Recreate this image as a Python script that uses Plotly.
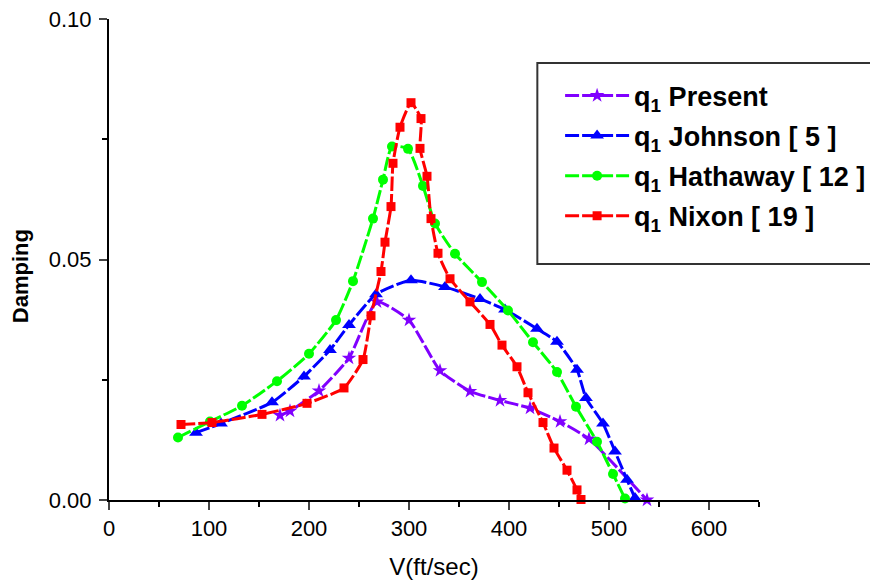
import plotly.graph_objects as go

# ---- data ----
present_x = [171, 181, 210, 240, 268, 300, 331, 361, 391, 421, 451, 480, 538]
present_y = [0.0176, 0.0185, 0.0227, 0.0295, 0.0412, 0.0374, 0.0269, 0.0226, 0.0207, 0.0191, 0.0163, 0.0127, 0.0]

johnson_x = [87, 112, 163, 195, 221, 240, 267, 302, 336, 371, 396, 428, 448, 468, 477, 494, 506, 518, 526]
johnson_y = [0.0140, 0.0159, 0.0203, 0.0257, 0.0312, 0.0364, 0.0428, 0.0457, 0.0443, 0.0418, 0.0396, 0.0356,
             0.0329, 0.0271, 0.0212, 0.0159, 0.0101, 0.0042, 0.0004]

hathaway_x = [69, 101, 133, 168, 200, 227, 244, 264, 274, 283, 299, 314, 326, 346, 373, 399, 424, 448, 467, 488, 504, 516]
hathaway_y = [0.0130, 0.0163, 0.0196, 0.0247, 0.0304, 0.0374, 0.0455, 0.0585, 0.0666, 0.0735, 0.0730, 0.0653,
              0.0575, 0.0512, 0.0453, 0.0394, 0.0328, 0.0266, 0.0194, 0.0121, 0.0054, 0.0003]

nixon_x = [72, 103, 153, 198, 235, 254, 262, 272, 276, 282, 284, 291, 302, 312, 311, 318, 322, 329, 341, 361,
           381, 393, 408, 419, 434, 445, 458, 468, 472]
nixon_y = [0.0157, 0.0161, 0.0178, 0.0201, 0.0233, 0.0292, 0.0383, 0.0475, 0.0536, 0.0610, 0.0700, 0.0775,
           0.0826, 0.0793, 0.0731, 0.0673, 0.0585, 0.0513, 0.0460, 0.0412, 0.0365, 0.0322, 0.0277, 0.0223,
           0.0161, 0.0108, 0.0062, 0.0021, 0.0001]

names = ["q<sub>1</sub> Present", "q<sub>1</sub> Johnson [ 5 ]",
         "q<sub>1</sub> Hathaway [ 12 ]", "q<sub>1</sub> Nixon [ 19 ]"]

x_ticks = [0, 100, 200, 300, 400, 500, 600]
y_ticks = [0.0, 0.05, 0.10]

FONT = "Arial, Liberation Sans, sans-serif"

series = [
    (present_x, present_y, names[0], "#8000FF", "star", 11),
    (johnson_x, johnson_y, names[1], "#0000FF", "triangle-up", 12),
    (hathaway_x, hathaway_y, names[2], "#00FF00", "circle", 10),
    (nixon_x, nixon_y, names[3], "#FF0000", "square", 9),
]

fig = go.Figure()
for i, (xs, ys, nm, col, sym, sz) in enumerate(series):
    fig.add_trace(go.Scatter(
        x=xs, y=ys, name=nm, mode="lines+markers",
        line=dict(color=col, width=3, dash="14px,3px", shape="spline", smoothing=0.5),
        marker=dict(symbol=sym, size=sz, color=col, line=dict(width=0)),
        legendgroup=str(i), cliponaxis=False,
    ))

fig.update_layout(
    width=870, height=585,
    margin=dict(l=109, r=111, t=19, b=85, autoexpand=False),
    paper_bgcolor="white", plot_bgcolor="white",
    font=dict(family=FONT, color="black"),
    showlegend=True,
    legend=dict(
        x=0.694, xanchor="left",
        y=0.891, yanchor="top",
        bgcolor="rgba(0,0,0,0)", borderwidth=0,
        font=dict(family=FONT, size=27, color="black", weight="bold"),
        tracegroupgap=2, traceorder="grouped", itemwidth=64,
    ),
    xaxis=dict(
        range=[0, 650], tickvals=x_ticks, ticks="outside", ticklen=8, tickwidth=2,
        showline=True, linecolor="black", linewidth=2, showgrid=False, zeroline=False,
        tickfont=dict(size=22, family=FONT),
        minor=dict(dtick=50, tick0=0, ticks="outside", ticklen=5, tickwidth=2, tickcolor="black", showgrid=False),
        title=dict(text="V(ft/sec)", font=dict(size=24, family=FONT), standoff=18),
    ),
    yaxis=dict(
        range=[0, 0.10], tickvals=y_ticks, tickformat=".2f", ticks="outside", ticklen=8, tickwidth=2,
        showline=True, linecolor="black", linewidth=2, showgrid=False, zeroline=False,
        tickfont=dict(size=22, family=FONT), ticklabelstandoff=3,
        minor=dict(dtick=0.025, tick0=0, ticks="outside", ticklen=5, tickwidth=2, tickcolor="black", showgrid=False),
    ),
    annotations=[dict(text="Damping", xref="paper", yref="paper",
                      x=(20 - 109) / 651, y=(500 - 276) / 481, xanchor="center", yanchor="middle",
                      textangle=-90, showarrow=False,
                      font=dict(size=22, family=FONT, weight="bold", color="black"))],
    shapes=[dict(type="rect", xref="paper", yref="paper",
                 x0=(538 - 109) / 651, x1=1.25, y0=(500 - 264) / 481, y1=(500 - 63) / 481,
                 line=dict(color="#333333", width=2), fillcolor="rgba(0,0,0,0)", layer="above")],
)

fig.write_html("out.html")
